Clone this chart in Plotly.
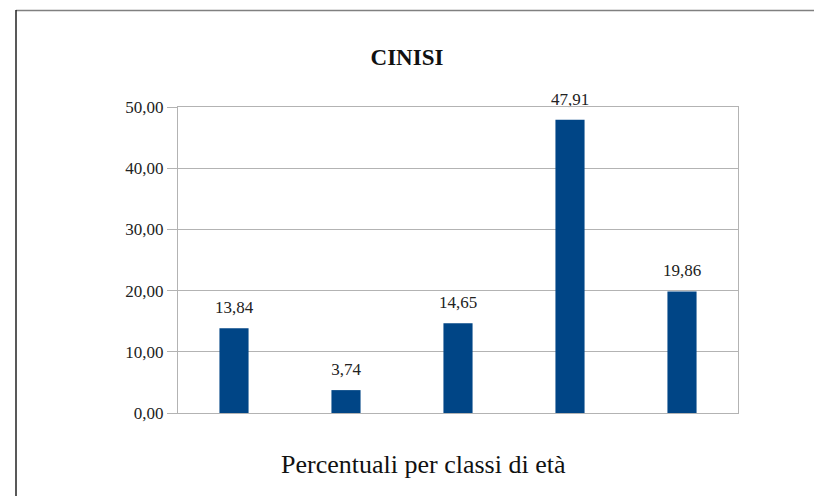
import plotly.graph_objects as go

categories = ["Classe 1", "Classe 2", "Classe 3", "Classe 4", "Classe 5"]
values = [13.84, 3.74, 14.65, 47.91, 19.86]
y_ticks = [0, 10, 20, 30, 40, 50]

W, H = 814, 496
L, R, T, B = 178, 738, 107, 413

fig = go.Figure()
fig.add_trace(go.Bar(
    x=categories, y=values,
    marker=dict(color="#004586", line=dict(width=0)),
    width=0.26,
    hoverinfo="x+y",
))
fig.add_trace(go.Scatter(
    x=categories, y=values,
    mode="markers+text",
    marker=dict(size=16, color="rgba(0,0,0,0)"),
    text=[f"{v:.2f}".replace(".", ",") for v in values],
    textposition="top center",
    textfont=dict(family="Liberation Serif", size=17, color="#222222"),
    cliponaxis=False,
    hoverinfo="skip",
))

pw, ph = R - L, B - T
def px(x): return (x - L) / pw
def py(y): return (B - y) / ph

fig.update_layout(
    width=W, height=H,
    margin=dict(l=L, r=W - R, t=T, b=H - B),
    paper_bgcolor="white", plot_bgcolor="white",
    separators=",.",
    showlegend=False,
    title=dict(text="<b>CINISI</b>", x=px(407), xanchor="center", xref="paper",
               y=1 - 57 / H, yanchor="middle",
               font=dict(family="Liberation Serif", size=23, color="#111111")),
    font=dict(family="Liberation Serif", color="#222222"),
    xaxis=dict(showticklabels=False, ticks="", showgrid=False, showline=True,
               linecolor="#b3b3b3", linewidth=1, mirror=True),
    yaxis=dict(range=[0, 50], tickvals=y_ticks, tickformat=".2f", ticks="outside",
               ticklen=10, tickcolor="#b3b3b3", showgrid=True, gridcolor="#b3b3b3",
               gridwidth=1, showline=True, linecolor="#b3b3b3", linewidth=1, mirror=True,
               tickfont=dict(family="Liberation Serif", size=17, color="#222222"),
               zeroline=False),
    annotations=[dict(text="Percentuali per classi di età", xref="paper", yref="paper",
                      x=px(423), y=py(464), xanchor="center", yanchor="middle",
                      showarrow=False,
                      font=dict(family="Liberation Serif", size=26, color="#111111"))],
    shapes=[
        dict(type="line", xref="paper", yref="paper", x0=px(16), x1=px(820), y0=py(10.5), y1=py(10.5),
             line=dict(color="#808080", width=1.5)),
        dict(type="line", xref="paper", yref="paper", x0=px(16), x1=px(16), y0=py(10), y1=py(500),
             line=dict(color="#222222", width=1.5)),
    ],
)

fig.write_html("out.html", config={"displayModeBar": False},
               post_script="document.body.style.margin='0';")
